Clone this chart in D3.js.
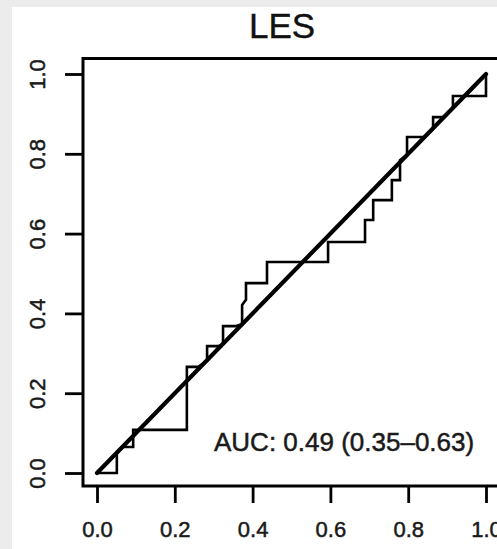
<!DOCTYPE html>
<html>
<head>
<meta charset="utf-8">
<script src="https://cdn.jsdelivr.net/npm/d3@7"></script>
<style>
  html, body { margin: 0; padding: 0; background: #ffffff; }
  svg { display: block; }
</style>
</head>
<body>
<svg id="chart" width="497" height="549"></svg>
<script>
// ---- data ----
const chartTitle = "LES";
const aucLabel = "AUC: 0.49 (0.35\u20130.63)";
const fpr = [0, 0.051, 0.051, 0.067, 0.093, 0.093, 0.231, 0.231, 0.26, 0.283, 0.283, 0.311,
  0.324, 0.324, 0.355, 0.373, 0.373, 0.383, 0.383, 0.437, 0.437, 0.594, 0.594, 0.689, 0.689,
  0.710, 0.710, 0.758, 0.758, 0.779, 0.779, 0.797, 0.797, 0.843, 0.864, 0.864, 0.889, 0.915,
  0.915, 1.0, 1.0];
const tpr = [0, 0, 0.05, 0.065, 0.065, 0.108, 0.108, 0.266, 0.266, 0.281, 0.318, 0.318,
  0.323, 0.368, 0.368, 0.373, 0.421, 0.434, 0.476, 0.476, 0.529, 0.529, 0.579, 0.579, 0.634,
  0.634, 0.684, 0.684, 0.734, 0.734, 0.784, 0.797, 0.842, 0.842, 0.862, 0.892, 0.892, 0.915,
  0.945, 0.945, 1.0];
const refLine = [[0, 0], [1, 1]];
const xTicks = [0, 0.2, 0.4, 0.6, 0.8, 1.0];
const yTicks = [0, 0.2, 0.4, 0.6, 0.8, 1.0];
const tickLabels = ["0.0", "0.2", "0.4", "0.6", "0.8", "1.0"];

// ---- drawing ----
const svg = d3.select("#chart");
const font = "'Liberation Sans', Arial, Helvetica, sans-serif";

// outer light-gray frame (page background visible at top/left)
svg.append("rect").attr("x", 0).attr("y", 0).attr("width", 497).attr("height", 549).attr("fill", "#ececec");
svg.append("rect").attr("x", 12).attr("y", 7).attr("width", 497).attr("height", 549).attr("fill", "#ffffff");

const x = d3.scaleLinear().domain([0, 1]).range([97, 486]);
const y = d3.scaleLinear().domain([0, 1]).range([473, 74]);

const box = { left: 83, top: 58.5, right: 503, bottom: 486 };

// plot box
svg.append("rect")
  .attr("x", box.left).attr("y", box.top)
  .attr("width", box.right - box.left).attr("height", box.bottom - box.top)
  .attr("fill", "none").attr("stroke", "#000").attr("stroke-width", 3);

// x axis
const xAxis = d3.axisBottom(x).tickValues(xTicks).tickSize(17).tickFormat((d, i) => tickLabels[i]);
const gx = svg.append("g").attr("transform", `translate(0,${box.bottom})`).call(xAxis);
gx.select(".domain").remove();
gx.selectAll(".tick line").attr("stroke", "#000").attr("stroke-width", 2.8);
gx.selectAll(".tick text")
  .attr("y", 35).attr("dy", "0.71em")
  .attr("fill", "#1a1a1a").attr("stroke", "#1a1a1a").attr("stroke-width", 0.5)
  .style("font-family", font).style("font-size", "22px");

// y axis
const yAxis = d3.axisLeft(y).tickValues(yTicks).tickSize(18).tickFormat((d, i) => tickLabels[i]);
const gy = svg.append("g").attr("transform", `translate(${box.left},0)`).call(yAxis);
gy.select(".domain").remove();
gy.selectAll(".tick line").attr("stroke", "#000").attr("stroke-width", 2.8);
gy.selectAll(".tick text")
  .attr("x", null).attr("dy", null)
  .attr("text-anchor", "middle")
  .attr("transform", "translate(-38,0) rotate(-90)")
  .attr("fill", "#1a1a1a").attr("stroke", "#1a1a1a").attr("stroke-width", 0.5)
  .style("font-family", font).style("font-size", "22px");

// reference diagonal
svg.append("line")
  .attr("x1", x(refLine[0][0])).attr("y1", y(refLine[0][1]))
  .attr("x2", x(refLine[1][0])).attr("y2", y(refLine[1][1]))
  .attr("stroke", "#000").attr("stroke-width", 4.2).attr("stroke-linecap", "round");

// ROC curve
const pts = fpr.map((d, i) => [d, tpr[i]]);
svg.append("path")
  .attr("d", d3.line().x(d => x(d[0])).y(d => y(d[1]))(pts))
  .attr("fill", "none").attr("stroke", "#000").attr("stroke-width", 2.6)
  .attr("stroke-linejoin", "miter");

// title
svg.append("text")
  .attr("x", 282).attr("y", 38)
  .attr("text-anchor", "middle")
  .attr("fill", "#111").attr("stroke", "#111").attr("stroke-width", 0.4)
  .style("font-family", font).style("font-size", "35px")
  .text(chartTitle);

// AUC annotation
svg.append("text")
  .attr("x", 214).attr("y", 451)
  .attr("fill", "#1a1a1a").attr("stroke", "#1a1a1a").attr("stroke-width", 0.5)
  .style("font-family", font).style("font-size", "26px")
  .text(aucLabel);
</script>
</body>
</html>
